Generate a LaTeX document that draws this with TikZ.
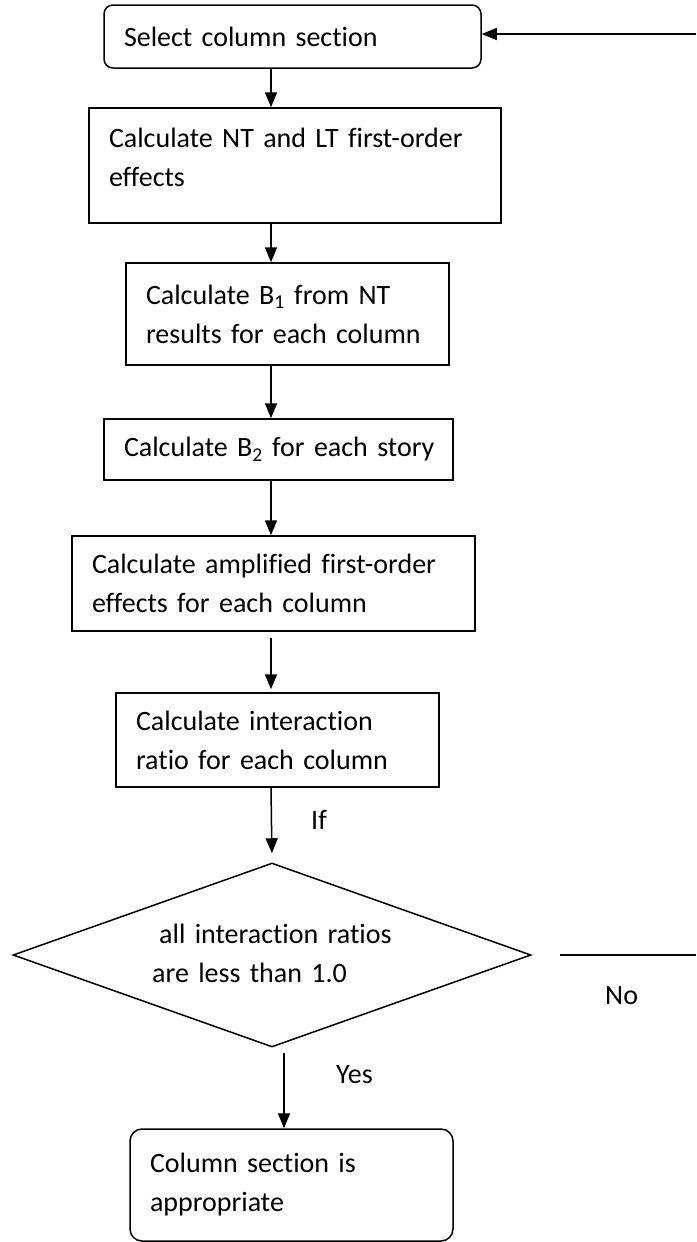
\documentclass[tikz,border=0pt]{standalone}
\usepackage{fontspec}
\setmainfont{Carlito}[Ligatures=NoCommon]
\usetikzlibrary{shapes.geometric,arrows.meta}

\tikzset{
    stepbox/.style={draw, line width=1.5pt, inner xsep=20pt, inner ysep=0pt, align=left, font=\fontsize{28}{39}\selectfont},
    endbox/.style={stepbox, rounded corners=9pt},
    decision/.style={draw, diamond, line width=1.5pt, inner sep=0pt},
    txt/.style={inner sep=0pt, anchor=west, font=\fontsize{28}{39}\selectfont},
    arrow/.style={line width=1.5pt, -{Triangle[length=15pt,width=12pt]}},
}

\begin{document}
\begin{tikzpicture}[x=1pt, y=-1pt]
    \useasboundingbox (0,0) rectangle (696,1242);

    % Start box at the top
    \node[endbox, minimum height=63pt, text width=337pt] (select) at (292.5,36.5) {Select column section};

    % Calculation steps, one under the other
    \node[stepbox, minimum height=115pt, text width=372pt] (firstorder) at (295,165.5) {Calculate NT and LT first-order\\effects\\[-22pt]\mbox{}};
    \node[stepbox, minimum height=102pt, text width=283pt] (bone) at (287.5,314) {Calculate B\textsubscript{1} from NT\\results for each column};
    \node[stepbox, minimum height=61pt, text width=309pt] (btwo) at (278.5,449.5) {\mbox{Calculate B\textsubscript{2} for each story}};
    \node[stepbox, minimum height=95pt, text width=363pt] (amplified) at (273.5,583.5) {Calculate amplified first-order\\effects for each column};
    \node[stepbox, minimum height=94pt, text width=283pt] (ratio) at (277.5,740) {Calculate interaction\\ratio for each column};

    % Decision with its text
    \node[decision, minimum width=518pt, minimum height=184pt] (check) at (272,955) {};
    \node[txt, text width=300pt, align=left] (checktext) at (152,953.5) {\hspace*{7pt}all interaction ratios\\are less than 1.0};

    % End box
    \node[endbox, rounded corners=12pt, minimum height=112pt, text width=283pt] (ok) at (291.5,1185) {Column section is\\appropriate};

    % Branch labels
    \node[txt] (iflabel) at (311,820) {If};
    \node[txt] (yeslabel) at (336,1075) {Yes};
    \node[txt] (nolabel) at (605,996) {No};

    % Helper coordinates
    \coordinate (spine) at (271,0);
    \coordinate (yesx) at (284,0);
    \coordinate (noend) at (696,955);
    \coordinate (loopin) at (696,34);

    % Connections
    \draw[arrow] (select.south -| spine) -- (firstorder.north -| spine);
    \draw[arrow] (firstorder.south -| spine) -- (bone.north -| spine);
    \draw[arrow] (bone.south -| spine) -- (btwo.north -| spine);
    \draw[arrow] (btwo.south -| spine) -- (amplified.north -| spine);
    \draw[arrow, shorten <=6pt, shorten >=3pt] (amplified.south -| spine) -- (ratio.north -| spine);
    \draw[arrow, shorten >=9pt] (ratio.south -| spine) -- (check.north);
    \draw[arrow, shorten <=5pt] (check.south -| yesx) -- (ok.north -| yesx);

    % Loop back when No
    \draw[line width=1.5pt, shorten <=28pt] (check.east) -- (noend);
    \draw[arrow] (loopin) -- (loopin -| select.east);

\end{tikzpicture}
\end{document}
